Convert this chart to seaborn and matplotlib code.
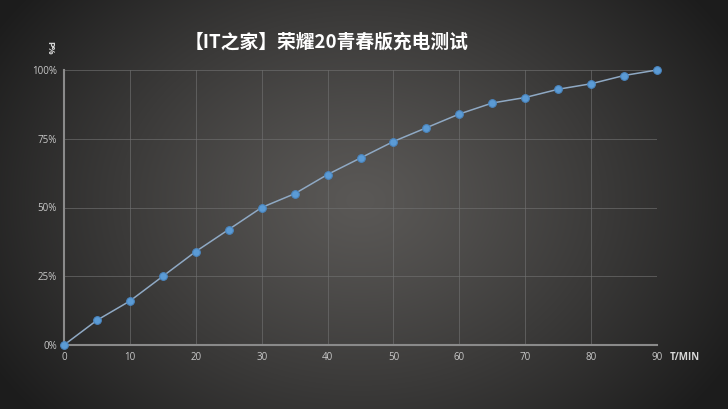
import numpy as np
import pandas as pd
import matplotlib
matplotlib.use("Agg")
import matplotlib.pyplot as plt
import seaborn as sns

# Data
minutes = [0, 5, 10, 15, 20, 25, 30, 35, 40, 45, 50, 55, 60, 65, 70, 75, 80, 85, 90]
percent = [0, 9, 16, 25, 34, 42, 50, 55, 62, 68, 74, 79, 84, 88, 90, 93, 95, 98, 100]
x_ticks = [0, 10, 20, 30, 40, 50, 60, 70, 80, 90]
y_ticks = [0, 25, 50, 75, 100]
y_tick_labels = ["0%", "25%", "50%", "75%", "100%"]
title = "【IT之家】荣耀20青春版充电测试"

df = pd.DataFrame({"min": minutes, "pct": percent})

sns.set_theme(style="dark")
plt.rcParams["font.family"] = ["Open Sans", "DejaVu Sans"]

W, H = 728, 409
fig = plt.figure(figsize=(W / 100, H / 100), dpi=100)

# radial gradient background
bg = fig.add_axes([0, 0, 1, 1])
yy, xx = np.mgrid[0:H, 0:W]
cx, cy = 360, 200
r = np.sqrt(((xx - cx) / 430.0) ** 2 + ((yy - cy) / 330.0) ** 2)
r = np.clip(r, 0, 1)
inner = np.array([0x5a, 0x58, 0x56]) / 255.0
outer = np.array([0x1c, 0x1c, 0x1c]) / 255.0
t = r[..., None] ** 1.2
img = inner * (1 - t) + outer * t
bg.imshow(img, extent=[0, 1, 0, 1], aspect="auto", origin="upper")
bg.set_axis_off()

ax = fig.add_axes([64 / W, 1 - 345 / H, (657 - 64) / W, (345 - 70) / H])
ax.set_facecolor("none")
ax.patch.set_alpha(0)

sns.lineplot(data=df, x="min", y="pct", ax=ax, color="#8fa9c4", linewidth=1.1,
             marker="o", markersize=5.5, markerfacecolor="#5b9bd5",
             markeredgecolor="#4a86c0", markeredgewidth=0.8, clip_on=False, zorder=5)

ax.set_xlim(0, 90)
ax.set_ylim(0, 100)
ax.set_xticks(x_ticks)
ax.set_yticks(y_ticks)
ax.set_yticklabels(y_tick_labels)
ax.set_xlabel("")
ax.set_ylabel("")
ax.grid(True, color="#707070", linewidth=0.7, alpha=0.65)
ax.set_axisbelow(True)
ax.tick_params(axis="both", colors="#c8c8c8", labelsize=7, length=0, pad=5)
for side in ["top", "right"]:
    ax.spines[side].set_visible(False)
for side in ["bottom", "left"]:
    ax.spines[side].set_visible(True)
    ax.spines[side].set_color("#8a8a8a")
    ax.spines[side].set_linewidth(1.5)

fig.text(327 / W, 1 - 42 / H, title, color="white", fontsize=13.5, fontweight="bold",
         ha="center", va="center", family=["Noto Sans CJK SC", "DejaVu Sans"])
fig.text(685 / W, 1 - 357 / H, "T/MIN", color="#d8d8d8", fontsize=7, fontweight="bold",
         ha="center", va="center")
fig.text(50 / W, 1 - 48 / H, "P%", color="#d8d8d8", fontsize=6.5, fontweight="bold",
         ha="center", va="center", rotation=-90)

fig.savefig("out.png", dpi=100)
